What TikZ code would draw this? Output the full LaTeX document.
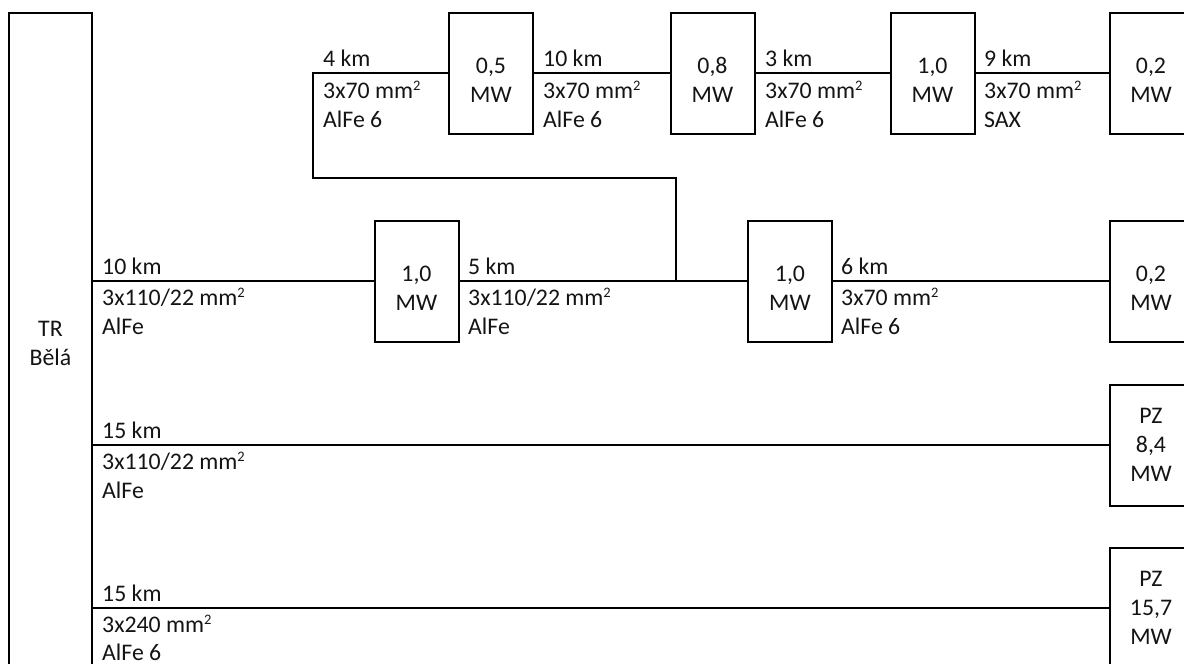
\documentclass[tikz,border=0pt]{standalone}
\usepackage{fontspec}
\setmainfont{Carlito}
\usepackage{tikz}
\definecolor{LineBlack}{RGB}{0,0,0}
\definecolor{TextBlack}{RGB}{20,20,20}
\newcommand{\sqmark}{\raisebox{7.5pt}{\fontsize{14.5}{14.5}\selectfont 2}}
\tikzset{
  sourcebox/.style={draw=LineBlack,line width=2pt,inner sep=0pt,outer sep=0pt,minimum width=83pt,minimum height=661pt,align=center,text=TextBlack,font=\fontsize{23.8}{29}\selectfont},
  loadbox/.style={draw=LineBlack,line width=2pt,inner sep=0pt,outer sep=0pt,minimum width=84pt,minimum height=121pt,align=center,text=TextBlack,font=\fontsize{23.8}{29}\selectfont},
  endbox/.style={loadbox,minimum width=82pt},
  cablelabel/.style={anchor=base west,inner sep=0pt,text=TextBlack,font=\fontsize{23.8}{29}\selectfont},
  feeder/.style={draw=LineBlack,line width=2pt}
}
\begin{document}
\begin{tikzpicture}[x=1pt,y=-1pt]
\path[use as bounding box,clip] (0,0) rectangle (1184,664);
\node[sourcebox] (bela) at (50.5,343.5) {TR\\Bělá};
% upper branch
\node[loadbox] (load05) at (491,73) {~\\0,5\\MW};
\node[loadbox] (load08) at (712.5,73) {~\\0,8\\MW};
\node[loadbox] (load10a) at (932.5,73) {~\\1,0\\MW};
\node[endbox] (end02a) at (1151,73) {~\\0,2\\MW};
% middle feeder
\node[loadbox] (load10b) at (416.5,281) {~\\1,0\\MW};
\node[loadbox] (load10c) at (790,281) {~\\1,0\\MW};
\node[endbox] (end02b) at (1151,281) {~\\0,2\\MW};
% switching stations
\node[endbox] (pz84) at (1151,445) {PZ\\8,4\\MW};
\node[endbox] (pz157) at (1151,608) {PZ\\15,7\\MW};
\coordinate (tap) at (676,281);
\coordinate (bendtop) at (313,73);
\coordinate (bendlow) at (313,178);
\coordinate (bendhigh) at (676,178);
\draw[feeder] (load05) -- (bendtop) -- (bendlow) -- (bendhigh) -- (tap);
\draw[feeder] (load05) -- (load08);
\draw[feeder] (load08) -- (load10a);
\draw[feeder] (load10a) -- (end02a);
\draw[feeder] (bela.east |- load10b) -- (load10b);
\draw[feeder] (load10b) -- (load10c);
\draw[feeder] (load10c) -- (end02b);
\draw[feeder] (bela.east |- pz84) -- (pz84);
\draw[feeder] (bela.east |- pz157) -- (pz157);
% labels, upper branch
\node[cablelabel] (km1) at (323,66) {4 km};
\node[cablelabel] (sec1) at (323,98) {3x70 mm\sqmark};
\node[cablelabel] (mat1) at (323,127) {AlFe 6};
\node[cablelabel] (km2) at (543,66) {10 km};
\node[cablelabel] (sec2) at (543,98) {3x70 mm\sqmark};
\node[cablelabel] (mat2) at (543,127) {AlFe 6};
\node[cablelabel] (km3) at (765,66) {3 km};
\node[cablelabel] (sec3) at (765,98) {3x70 mm\sqmark};
\node[cablelabel] (mat3) at (765,127) {AlFe 6};
\node[cablelabel] (km4) at (984,66) {9 km};
\node[cablelabel] (sec4) at (984,98) {3x70 mm\sqmark};
\node[cablelabel] (mat4) at (984,127) {SAX};
% labels, middle feeder
\node[cablelabel] (km5) at (102,274) {10 km};
\node[cablelabel] (sec5) at (102,305) {3x110/22 mm\sqmark};
\node[cablelabel] (mat5) at (102,334) {AlFe};
\node[cablelabel] (km6) at (468,274) {5 km};
\node[cablelabel] (sec6) at (468,305) {3x110/22 mm\sqmark};
\node[cablelabel] (mat6) at (468,334) {AlFe};
\node[cablelabel] (km7) at (841,274) {6 km};
\node[cablelabel] (sec7) at (841,305) {3x70 mm\sqmark};
\node[cablelabel] (mat7) at (841,334) {AlFe 6};
% labels, lower feeders
\node[cablelabel] (km8) at (102,438) {15 km};
\node[cablelabel] (sec8) at (102,469) {3x110/22 mm\sqmark};
\node[cablelabel] (mat8) at (102,498) {AlFe};
\node[cablelabel] (km9) at (102,601) {15 km};
\node[cablelabel] (sec9) at (102,632) {3x240 mm\sqmark};
\node[cablelabel] (mat9) at (102,660) {AlFe 6};
\end{tikzpicture}
\end{document}
